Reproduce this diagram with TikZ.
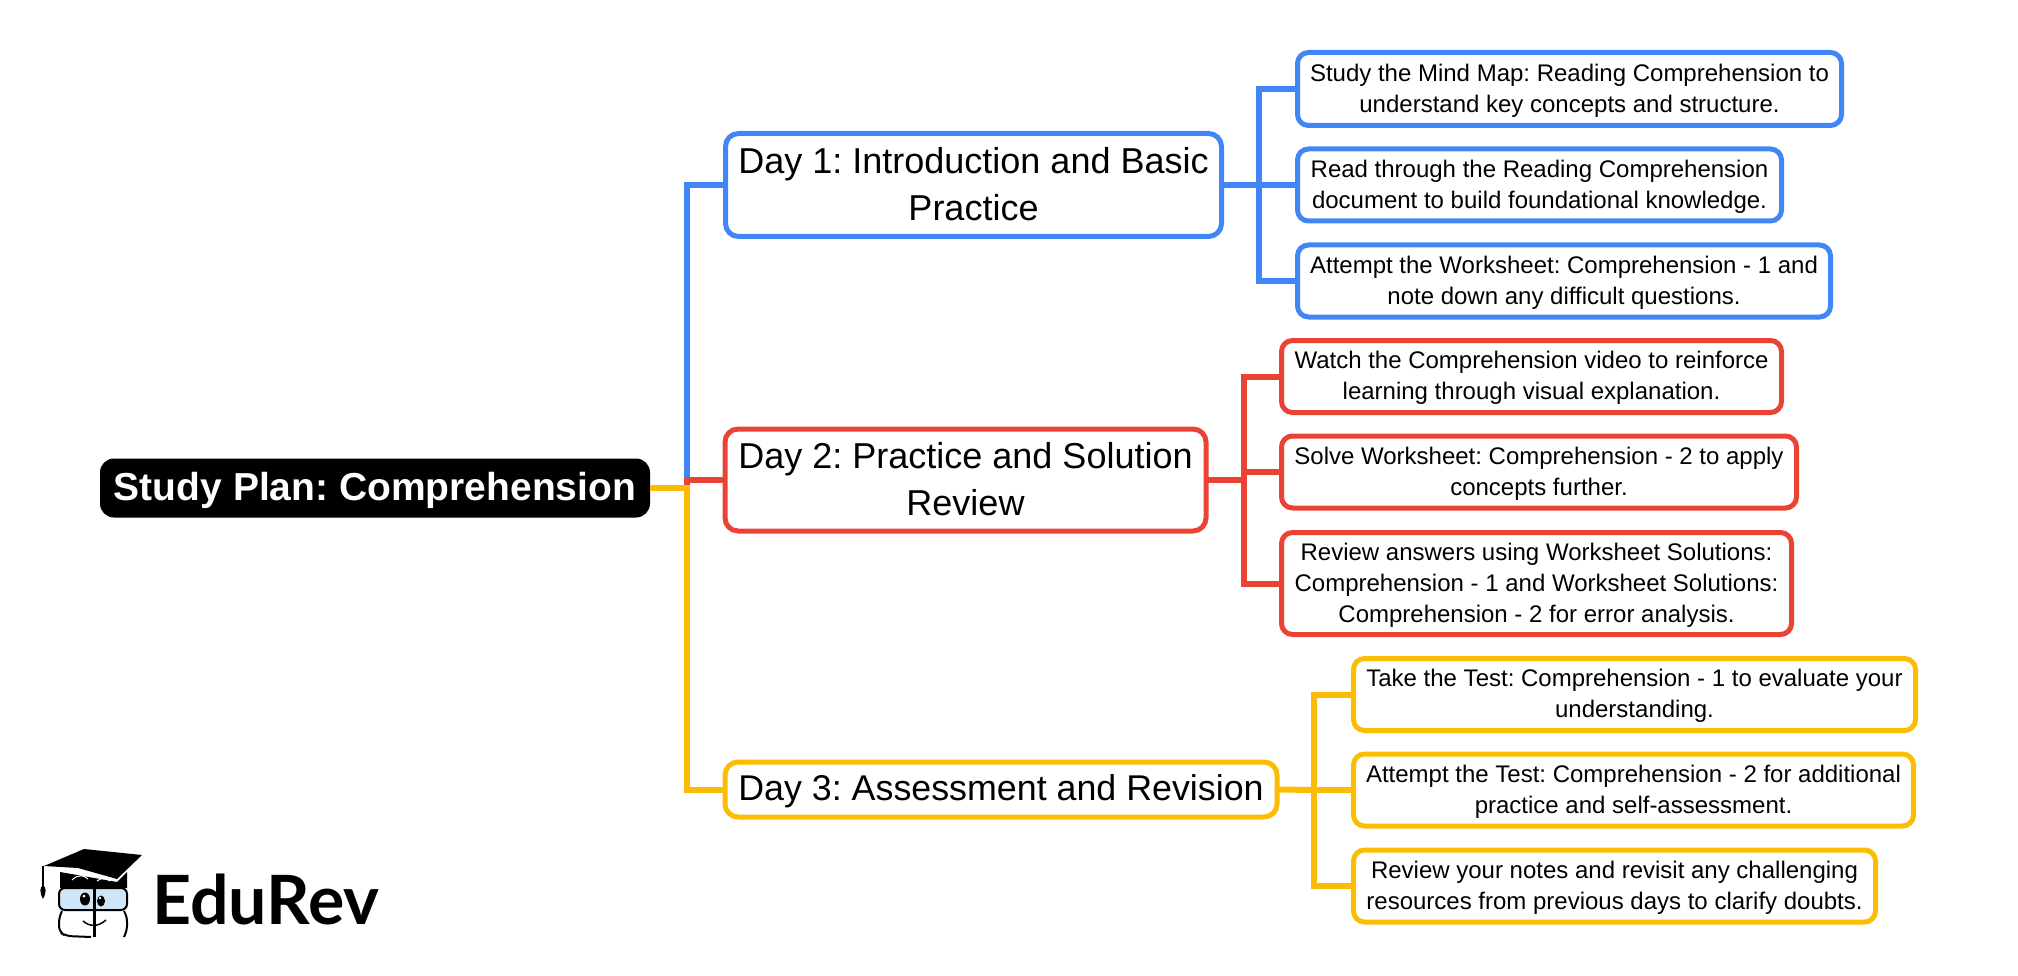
\documentclass[tikz,border=0pt]{standalone}
\usepackage{fontspec}
\setmainfont{Liberation Sans}
\newfontfamily\logofont{Lato}
\frenchspacing
\definecolor{planblue}{HTML}{4285F4}
\definecolor{planred}{HTML}{EA4335}
\definecolor{planyellow}{HTML}{FBBC04}
\definecolor{lensblue}{HTML}{CFE5F8}
\tikzset{
    box/.style={draw, rounded corners=13pt, line width=5pt, align=center, inner sep=0pt, outer sep=0pt},
    daybox/.style={box, text depth=3pt, font=\fontsize{36}{47}\selectfont},
    taskbox/.style={box, rounded corners=11pt, text depth=2pt, font=\fontsize{24}{31}\selectfont},
    link/.style={line width=6pt, miter limit=10}
}
\begin{document}
\begin{tikzpicture}%
    [x=1pt, y=-1pt]
    \useasboundingbox (0, 0) rectangle (2018, 976);

    \node (root) [fill=black, text=white, rounded corners=14pt, minimum width=550pt, minimum height=59pt,
        inner sep=0pt, outer sep=0pt, text depth=3pt, font=\fontsize{39}{46}\selectfont\bfseries] at (375, 488) {Study Plan: Comprehension};

    \node (d1) [daybox, planblue, text=black, minimum width=496pt, minimum height=103pt] at (973.5, 185) {Day 1: Introduction and Basic\\Practice};
    \node (d2) [daybox, planred, text=black, minimum width=481pt, minimum height=102pt] at (965.5, 480) {Day 2: Practice and Solution\\Review};
    \node (d3) [daybox, planyellow, text=black, minimum width=552pt, minimum height=55pt, font=\fontsize{35.8}{47}\selectfont] at (1001, 789.5) {Day 3: Assessment and Revision};

    \node (b1) [taskbox, planblue, text=black, minimum width=544pt, minimum height=73pt] at (1569.5, 89) {Study the Mind Map: Reading Comprehension to\\understand key concepts and structure.};
    \node (b2) [taskbox, planblue, text=black, minimum width=484pt, minimum height=72pt] at (1539.5, 185) {Read through the Reading Comprehension\\document to build foundational knowledge.};
    \node (b3) [taskbox, planblue, text=black, minimum width=533pt, minimum height=72pt] at (1564, 281) {Attempt the Worksheet: Comprehension - 1 and\\note down any difficult questions.};

    \node (r1) [taskbox, planred, text=black, minimum width=500pt, minimum height=72pt] at (1531.5, 376.5) {Watch the Comprehension video to reinforce\\learning through visual explanation.};
    \node (r2) [taskbox, planred, text=black, minimum width=515pt, minimum height=72pt] at (1539, 472) {Solve Worksheet: Comprehension - 2 to apply\\concepts further.};
    \node (r3) [taskbox, planred, text=black, minimum width=510pt, minimum height=102pt] at (1536.5, 583.5) {Review answers using Worksheet Solutions:\\Comprehension - 1 and Worksheet Solutions:\\Comprehension - 2 for error analysis.};

    \node (y1) [taskbox, planyellow, text=black, minimum width=562pt, minimum height=72pt] at (1634.5, 694.5) {Take the Test: Comprehension - 1 to evaluate your\\understanding.};
    \node (y2) [taskbox, planyellow, text=black, minimum width=560pt, minimum height=72pt] at (1633.5, 790) {Attempt the Test: Comprehension - 2 for additional\\practice and self-assessment.};
    \node (y3) [taskbox, planyellow, text=black, minimum width=522pt, minimum height=72pt] at (1614.5, 886) {Review your notes and revisit any challenging\\resources from previous days to clarify doubts.};

    \coordinate (j0) at (687, 488);
    \coordinate (j1) at (1259, 185);
    \coordinate (j2) at (1244, 480);
    \coordinate (j3) at (1314, 790);

    \draw [link, planblue] (root.east) -| (j0) |- (d1.west);
    \draw [link, planred] (root.east) -| (j0) |- (d2.west);
    \draw [link, planyellow] (root.east) -| (j0) |- (d3.west);

    \draw [link, planblue] (d1.east) -- (j1);
    \draw [link, planblue] (j1) |- (b1.west);
    \draw [link, planblue] (j1) -- (b2.west);
    \draw [link, planblue] (j1) |- (b3.west);

    \draw [link, planred] (d2.east) -- (j2);
    \draw [link, planred] (j2) |- (r1.west);
    \draw [link, planred] (j2) |- (r2.west);
    \draw [link, planred] (j2) |- (r3.west);

    \draw [link, planyellow] (d3.east) -- (j3);
    \draw [link, planyellow] (j3) |- (y1.west);
    \draw [link, planyellow] (j3) -- (y2.west);
    \draw [link, planyellow] (j3) |- (y3.west);

    \node (logotext) [anchor=base west, inner sep=0pt, font=\fontsize{68}{68}\logofont\bfseries] at (152, 924) {EduRev};

    \fill [black] (44, 866) -- (84, 849) -- (142, 855) -- (117, 879) -- (78, 868) -- cycle;
    \fill [black] (60, 872) -- (117, 882) -- (127, 872) -- (127, 888) -- (60, 888) -- cycle;
    \draw [white, line width=1pt] (72, 880) .. controls (78, 874) and (84, 875) .. (88, 879);
    \draw [white, line width=1pt] (97, 881) .. controls (102, 877) and (106, 878) .. (110, 881);
    \draw [black, line width=1.5pt] (43, 866) -- (43, 886);
    \fill [black] (43, 885) .. controls (46, 888) and (47, 891) .. (43, 899) .. controls (39, 891) and (40, 888) .. (43, 885) -- cycle;
    \draw [black, line width=2pt, fill=lensblue, rounded corners=6pt] (59, 888) rectangle (127, 910);
    \draw [black, line width=2pt, rounded corners=6pt] (91, 937) -- (66, 936) -- (59, 932) -- (59, 917) -- (62, 911);
    \draw [black, line width=2pt, rounded corners=4pt] (124, 911) -- (127, 917) -- (127, 930) -- (124, 937);
    \draw [black, line width=3pt] (94, 885) -- (94, 937);
    \fill [black] (85, 899) ellipse [x radius=5pt, y radius=6.5pt];
    \fill [black] (101, 901) ellipse [x radius=4pt, y radius=5.5pt];
    \fill [white] (84, 896) circle [radius=1.5pt];
    \fill [white] (100, 898) circle [radius=1.3pt];
    \draw [black, line width=1.5pt] (83, 921) .. controls (90, 927) and (98, 927) .. (106, 920);
\end{tikzpicture}
\end{document}
